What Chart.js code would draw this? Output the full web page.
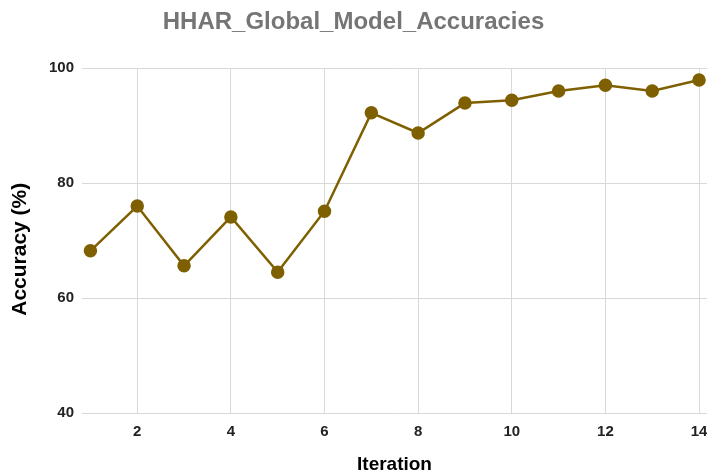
<!DOCTYPE html>
<html>
<head>
<meta charset="utf-8">
<script src="https://cdn.jsdelivr.net/npm/chart.js@4/dist/chart.umd.min.js"></script>
<style>
  html, body { margin: 0; padding: 0; background: #fff; overflow: hidden; }
  #wrap { width: 707px; height: 476px; position: relative; }
  #acc-chart { display: block; }
</style>
</head>
<body>
<div id="wrap"><canvas id="acc-chart"></canvas></div>
<script>
const iterations = [1, 2, 3, 4, 5, 6, 7, 8, 9, 10, 11, 12, 13, 14];
const accuracies = [68.2, 76.0, 65.6, 74.1, 64.5, 75.1, 92.2, 88.7, 93.9, 94.4, 96.0, 97.0, 96.0, 97.9];
const xTicks = [2, 4, 6, 8, 10, 12, 14];
const yTicks = [40, 60, 80, 100];

const LINE_COLOR = '#7f6000';
const GRID_COLOR = '#d9d9d9';
const FONT = '"Liberation Sans", Arial, sans-serif';

const ctx = document.getElementById('acc-chart').getContext('2d');
new Chart(ctx, {
    type: 'line',
    data: {
        datasets: [{
            label: 'Accuracy',
            data: iterations.map((it, i) => ({ x: it, y: accuracies[i] })),
            borderColor: LINE_COLOR,
            backgroundColor: LINE_COLOR,
            borderWidth: 2.5,
            pointRadius: 5.5,
            pointHoverRadius: 5.5,
            tension: 0,
            fill: false,
            clip: false
        }]
    },
    options: {
        responsive: true,
        maintainAspectRatio: false,
        animation: false,
        layout: { padding: 0, autoPadding: false },
        plugins: {
            legend: { display: false },
            tooltip: { enabled: false },
            title: {
                display: true,
                text: 'HHAR_Global_Model_Accuracies',
                color: '#757575',
                font: { family: FONT, size: 24, weight: 'bold' },
                padding: { top: 8, bottom: 31.2 }
            }
        },
        scales: {
            x: {
                type: 'linear',
                min: 0.82,
                max: 14.17,
                afterBuildTicks: axis => { axis.ticks = xTicks.map(v => ({ value: v })); },
                // keep the plot running to the right edge like the original
                afterFit: s => { s.height = 63; s.paddingLeft = 0; s.paddingRight = 0; },
                ticks: {
                    color: '#222',
                    font: { family: FONT, size: 15, weight: 'bold' },
                    padding: 10
                },
                grid: { color: GRID_COLOR, drawTicks: false },
                border: { display: false },
                title: {
                    display: true,
                    text: 'Iteration',
                    color: '#000',
                    font: { family: FONT, size: 19, weight: 'bold' },
                    padding: { top: 10, bottom: 0 }
                }
            },
            y: {
                min: 40,
                max: 100,
                afterBuildTicks: axis => { axis.ticks = yTicks.map(v => ({ value: v })); },
                afterFit: s => { s.width = 82; },
                ticks: {
                    color: '#222',
                    font: { family: FONT, size: 15, weight: 'bold' },
                    padding: 8
                },
                grid: { color: GRID_COLOR, drawTicks: false },
                border: { display: false },
                title: {
                    display: true,
                    text: 'Accuracy (%)   ',
                    color: '#000',
                    font: { family: FONT, size: 21, weight: 'bold' },
                    padding: { top: 8, bottom: 4 }
                }
            }
        }
    }
});
</script>
</body>
</html>
